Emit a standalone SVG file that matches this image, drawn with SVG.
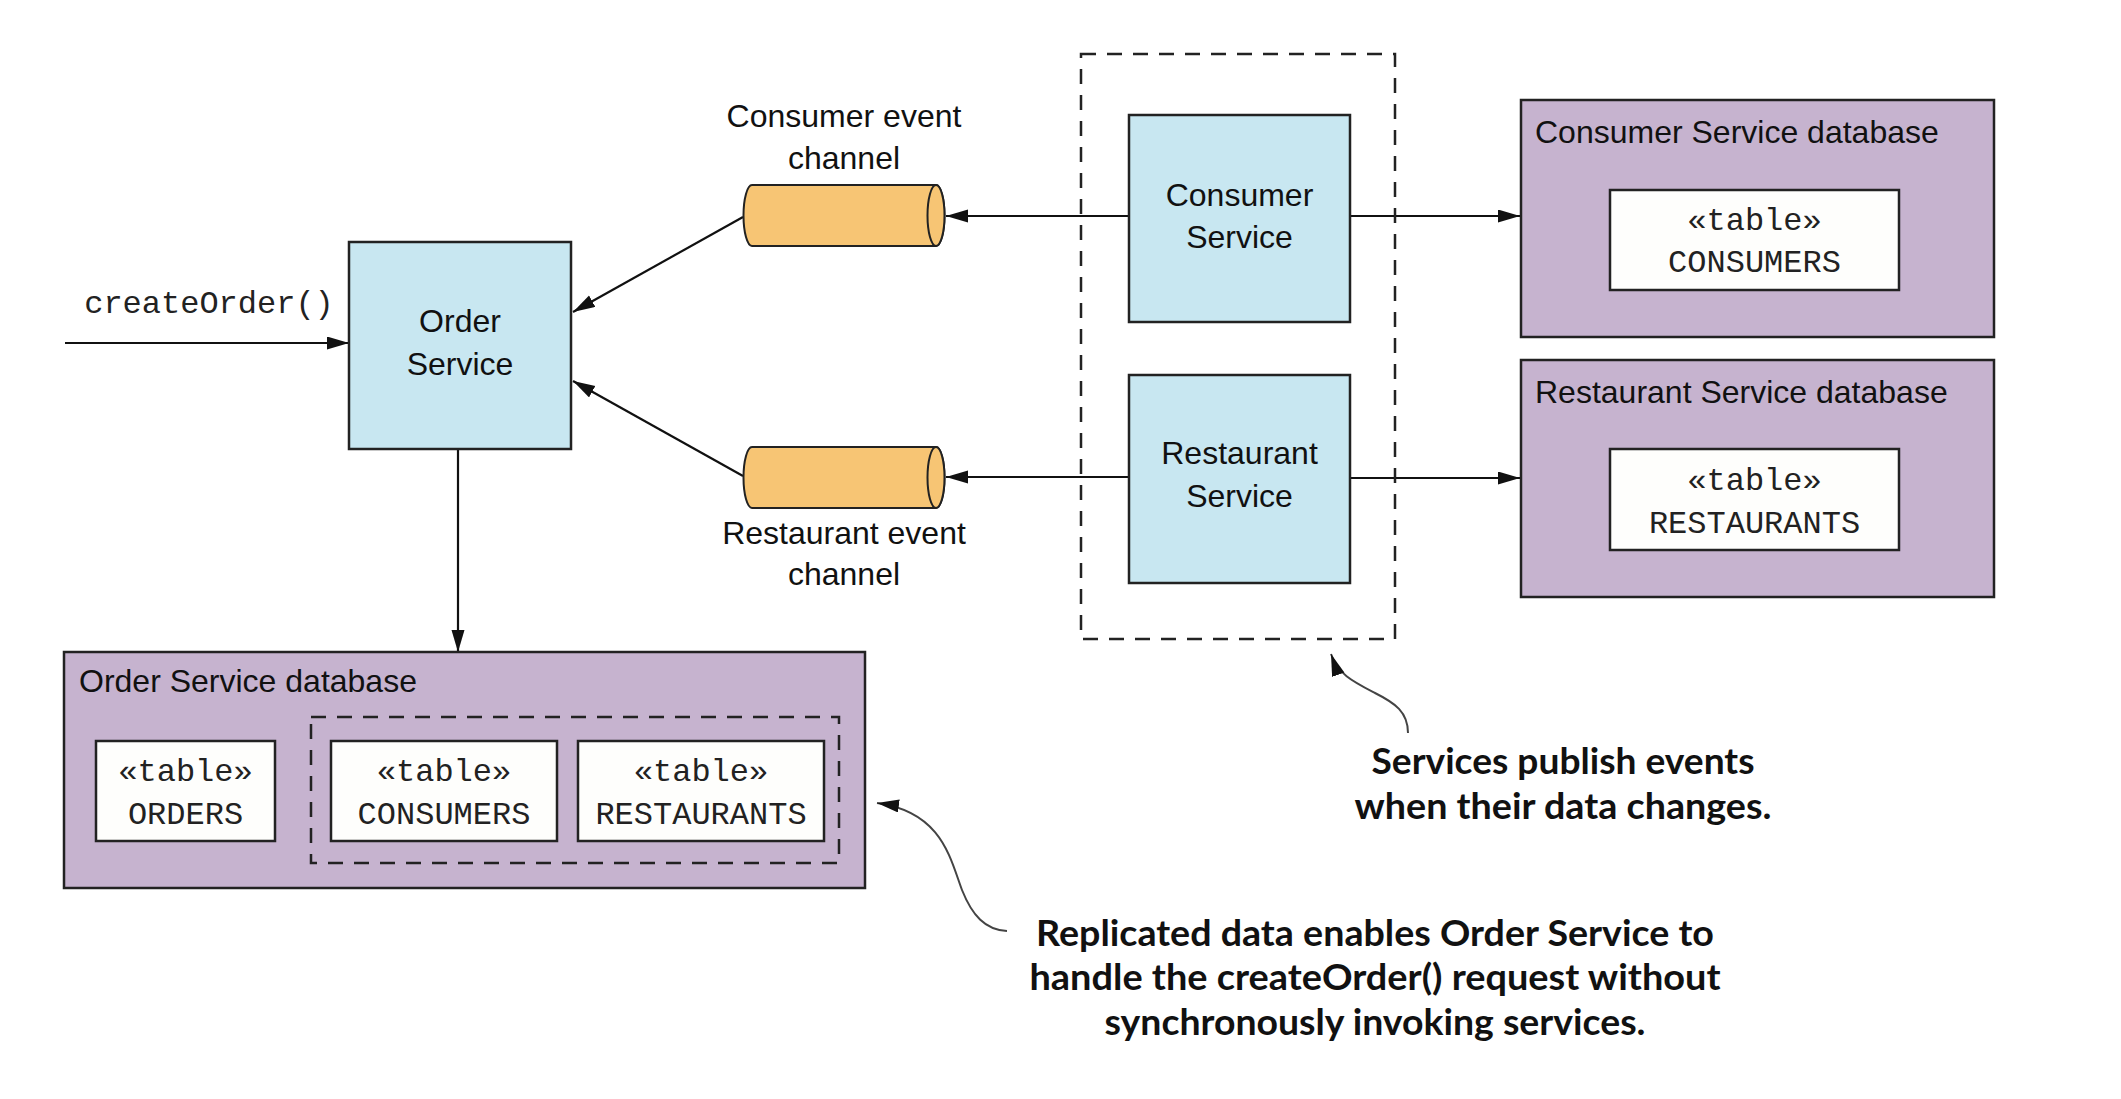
<svg xmlns="http://www.w3.org/2000/svg" width="2121" height="1099" viewBox="0 0 2121 1099">
<defs>
<marker id="ah" markerUnits="userSpaceOnUse" markerWidth="24" markerHeight="14" refX="22" refY="6.5" orient="auto">
<path d="M0,0 L22,6.5 L0,13 z" fill="#111"/>
</marker>
<style>
.svc{fill:#c8e7f1;stroke:#222;stroke-width:2.5}
.db{fill:#c6b3cf;stroke:#222;stroke-width:2.5}
.tbl{fill:#fefefc;stroke:#222;stroke-width:2.5}
.cyl{fill:#f7c574;stroke:#222;stroke-width:2}
.dash{fill:none;stroke:#222;stroke-width:2.5;stroke-dasharray:15 11}
.ln{fill:none;stroke:#111;stroke-width:2.2}
.crv{fill:none;stroke:#444;stroke-width:2}
.sans{font-family:"Liberation Sans",Arial,sans-serif;font-size:32px;fill:#111}
.mid{text-anchor:middle}
.mono{font-family:"Liberation Mono","Courier New",monospace;font-size:32px;fill:#222;text-anchor:middle}
.note{font-family:Lato,"Open Sans",sans-serif;font-weight:bold;font-size:37px;fill:#111;text-anchor:middle}
</style>
</defs>
<rect width="2121" height="1099" fill="#fff"/>

<g id="connectors">
<line class="ln" x1="65" y1="343" x2="349" y2="343" marker-end="url(#ah)"/>
<line class="ln" x1="743" y1="217" x2="573" y2="312" marker-end="url(#ah)"/>
<line class="ln" x1="743" y1="476" x2="573" y2="381" marker-end="url(#ah)"/>
<line class="ln" x1="1129" y1="216" x2="946" y2="216" marker-end="url(#ah)"/>
<line class="ln" x1="1129" y1="477" x2="946" y2="477" marker-end="url(#ah)"/>
<line class="ln" x1="1350" y1="216" x2="1520" y2="216" marker-end="url(#ah)"/>
<line class="ln" x1="1350" y1="478" x2="1520" y2="478" marker-end="url(#ah)"/>
<line class="ln" x1="458" y1="449" x2="458" y2="652" marker-end="url(#ah)"/>
<path class="crv" d="M1408,733 C1408,712 1395,703 1375,693 C1352,681 1338,674 1331,654" marker-end="url(#ah)"/>
<path class="crv" d="M1007,931 C985,930 972,915 962,890 C950,858 942,812 877,803" marker-end="url(#ah)"/>
</g>

<g id="createOrder-label">
<text class="mono" x="209" y="313">createOrder()</text>
</g>

<g id="order-service">
<rect class="svc" x="349" y="242" width="222" height="207"/>
<text class="sans mid" x="460" y="332">Order</text>
<text class="sans mid" x="460" y="375">Service</text>
</g>

<g id="consumer-event-channel">
<path class="cyl" d="M752,185 L936,185 A8.5,30.5 0 0 1 936,246 L752,246 A8.5,30.5 0 0 1 752,185 Z"/>
<ellipse class="cyl" cx="936" cy="215.5" rx="8.5" ry="30.5"/>
<text class="sans mid" x="844" y="127">Consumer event</text>
<text class="sans mid" x="844" y="169">channel</text>
</g>

<g id="restaurant-event-channel">
<path class="cyl" d="M752,447 L936,447 A8.5,30.5 0 0 1 936,508 L752,508 A8.5,30.5 0 0 1 752,447 Z"/>
<ellipse class="cyl" cx="936" cy="477.5" rx="8.5" ry="30.5"/>
<text class="sans mid" x="844" y="544">Restaurant event</text>
<text class="sans mid" x="844" y="585">channel</text>
</g>

<g id="publishers-group">
<rect class="dash" x="1081" y="54" width="314" height="585"/>
</g>

<g id="consumer-service">
<rect class="svc" x="1129" y="115" width="221" height="207"/>
<text class="sans mid" x="1239.5" y="206">Consumer</text>
<text class="sans mid" x="1239.5" y="248">Service</text>
</g>

<g id="restaurant-service">
<rect class="svc" x="1129" y="375" width="221" height="208"/>
<text class="sans mid" x="1239.5" y="464">Restaurant</text>
<text class="sans mid" x="1239.5" y="507">Service</text>
</g>

<g id="consumer-service-database">
<rect class="db" x="1521" y="100" width="473" height="237"/>
<text class="sans" x="1535" y="143">Consumer Service database</text>
<rect class="tbl" x="1610" y="190" width="289" height="100"/>
<text class="mono" x="1754.5" y="230">«table»</text>
<text class="mono" x="1754.5" y="272">CONSUMERS</text>
</g>

<g id="restaurant-service-database">
<rect class="db" x="1521" y="360" width="473" height="237"/>
<text class="sans" x="1535" y="403">Restaurant Service database</text>
<rect class="tbl" x="1610" y="449" width="289" height="101"/>
<text class="mono" x="1754.5" y="490">«table»</text>
<text class="mono" x="1754.5" y="533">RESTAURANTS</text>
</g>

<g id="order-service-database">
<rect class="db" x="64" y="652" width="801" height="236"/>
<text class="sans" x="79" y="692">Order Service database</text>
<rect class="dash" x="311" y="717" width="528" height="146"/>
<rect class="tbl" x="96" y="741" width="179" height="100"/>
<text class="mono" x="185.5" y="781">«table»</text>
<text class="mono" x="185.5" y="824">ORDERS</text>
<rect class="tbl" x="331" y="741" width="226" height="100"/>
<text class="mono" x="444" y="781">«table»</text>
<text class="mono" x="444" y="824">CONSUMERS</text>
<rect class="tbl" x="578" y="741" width="246" height="100"/>
<text class="mono" x="701" y="781">«table»</text>
<text class="mono" x="701" y="824">RESTAURANTS</text>
</g>

<g id="note-publish">
<text class="note" x="1563" y="774" textLength="383" lengthAdjust="spacingAndGlyphs">Services publish events</text>
<text class="note" x="1563" y="819" textLength="417" lengthAdjust="spacingAndGlyphs">when their data changes.</text>
</g>

<g id="note-replicated">
<text class="note" x="1375" y="946" textLength="678" lengthAdjust="spacingAndGlyphs">Replicated data enables Order Service to</text>
<text class="note" x="1375" y="990" textLength="691" lengthAdjust="spacingAndGlyphs">handle the createOrder() request without</text>
<text class="note" x="1375" y="1035" textLength="541" lengthAdjust="spacingAndGlyphs">synchronously invoking services.</text>
</g>
</svg>
